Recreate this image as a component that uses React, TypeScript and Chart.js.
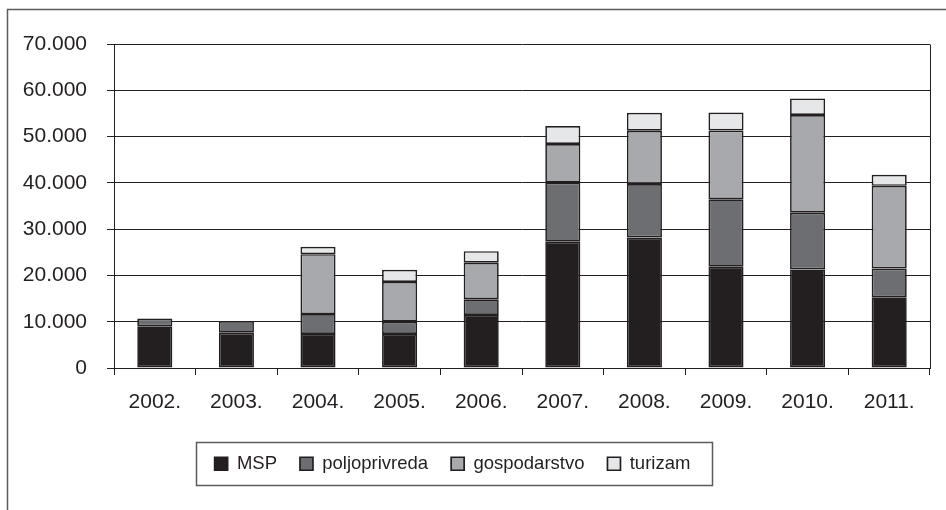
import { useEffect, useRef } from 'react';
import { Chart, registerables } from 'chart.js';

Chart.register(...registerables);

const categories = ['2002.', '2003.', '2004.', '2005.', '2006.', '2007.', '2008.', '2009.', '2010.', '2011.'];
const seriesNames = ['MSP', 'poljoprivreda', 'gospodarstvo', 'turizam'];
const msp = [9000, 7600, 7350, 7350, 11450, 27300, 28200, 21900, 21300, 15300];
const poljoprivreda = [1700, 2550, 4300, 2650, 3400, 12750, 11550, 14550, 12250, 6200];
const gospodarstvo = [null, null, 12950, 8600, 7900, 8350, 11500, 14850, 21100, 17850];
const turizam = [null, null, 1600, 2600, 2500, 3900, 3900, 3900, 3600, 2400];
const seriesColors = ['#231f20', '#6d6e71', '#a7a9ac', '#e6e7e8'];

const yMax = 70000;
const yStep = 10000;

const FONT = "'Liberation Sans', Arial, sans-serif";
const INK = '#231f20';
const FRAME = '#5a5b5d';
const SHIFT = 25; // canvas is shifted left by this many pixels

const formatThousands = (v: number) =>
  String(v).replace(/\B(?=(\d{3})+(?!\d))/g, '.');

const framePlugin = {
  id: 'framePlugin',
  afterDraw(chart: any) {
    const ctx = chart.ctx;
    const { right, top, bottom } = chart.chartArea;
    ctx.save();
    // plot-area right border
    ctx.strokeStyle = INK;
    ctx.lineWidth = 1;
    const rx = Math.round(right) + 0.5;
    ctx.beginPath();
    ctx.moveTo(rx, Math.round(top) + 0.5);
    ctx.lineTo(rx, Math.round(bottom));
    ctx.stroke();

    // outer frame (left + top edges)
    ctx.strokeStyle = FRAME;
    ctx.lineWidth = 1.5;
    ctx.beginPath();
    ctx.moveTo(SHIFT + 7.5, chart.height + 10);
    ctx.lineTo(SHIFT + 7.5, 9.5);
    ctx.lineTo(chart.width + 10, 9.5);
    ctx.stroke();

    // legend border
    const hb = chart.legend && chart.legend.legendHitBoxes;
    if (hb && hb.length) {
      const first = hb[0];
      const last = hb[hb.length - 1];
      const cy = first.top + first.height / 2;
      const l = Math.round(first.left - 19) + 0.5;
      const r = Math.round(last.left + last.width + 22) + 0.5;
      const t = Math.round(cy - 21.5) + 0.5;
      const b = Math.round(cy + 21.5) + 0.5;
      ctx.strokeStyle = FRAME;
      ctx.lineWidth = 1.5;
      ctx.strokeRect(l, t, r - l, b - t);
    }
    ctx.restore();
  },
};

export default function App() {
  const canvasRef = useRef<HTMLCanvasElement | null>(null);

  useEffect(() => {
    const canvas = canvasRef.current;
    if (!canvas) return;
    const seriesData = [msp, poljoprivreda, gospodarstvo, turizam];
    const chart = new Chart(canvas, {
      type: 'bar',
      data: {
        labels: categories,
        datasets: seriesNames.map((name, i) => ({
          label: name,
          data: seriesData[i] as any,
          backgroundColor: seriesColors[i],
          borderColor: INK,
          borderWidth: 1.7,
          borderSkipped: false,
          categoryPercentage: 1,
          barPercentage: 0.43,
        })),
      },
      options: {
        responsive: false,
        animation: false,
        events: [],
        layout: { padding: { top: 44, right: 16, bottom: 27, left: 0 } },
        plugins: {
          tooltip: { enabled: false },
          title: { display: false },
          legend: {
            display: true,
            position: 'bottom',
            labels: {
              boxWidth: 13,
              boxHeight: 13,
              padding: 23,
              color: INK,
              font: { family: FONT, size: 18.5 },
            },
          },
        },
        scales: {
          x: {
            stacked: true,
            offset: true,
            grid: {
              display: true,
              offset: true,
              drawOnChartArea: false,
              drawTicks: true,
              tickLength: 7,
              color: INK,
              lineWidth: 1,
            },
            border: { display: true, color: INK, width: 1 },
            ticks: {
              color: INK,
              padding: 15,
              maxRotation: 0,
              autoSkip: false,
              font: { family: FONT, size: 21 },
            },
            afterFit: (scale: any) => {
              scale.height = 63.5;
            },
          },
          y: {
            stacked: true,
            min: 0,
            max: yMax,
            grid: {
              display: true,
              drawOnChartArea: true,
              drawTicks: true,
              tickLength: 7,
              color: INK,
              lineWidth: 1,
            },
            border: { display: true, color: INK, width: 1 },
            ticks: {
              stepSize: yStep,
              color: INK,
              padding: 20,
              font: { family: FONT, size: 21 },
              callback: (v: any) => formatThousands(Number(v)),
            },
            afterFit: (scale: any) => {
              scale.width = 114 + SHIFT;
            },
          },
        },
      },
      plugins: [framePlugin],
    });
    return () => chart.destroy();
  }, []);

  return (
    <div
      style={{
        position: 'fixed',
        left: 0,
        top: 0,
        width: 946,
        height: 510,
        overflow: 'hidden',
        background: '#ffffff',
      }}
    >
      <div style={{ position: 'absolute', left: -SHIFT, top: 0, width: 946 + SHIFT, height: 510 }}>
        <canvas
          ref={canvasRef}
          width={946 + SHIFT}
          height={510}
          style={{ display: 'block', width: 946 + SHIFT, height: 510 }}
        />
      </div>
    </div>
  );
}
